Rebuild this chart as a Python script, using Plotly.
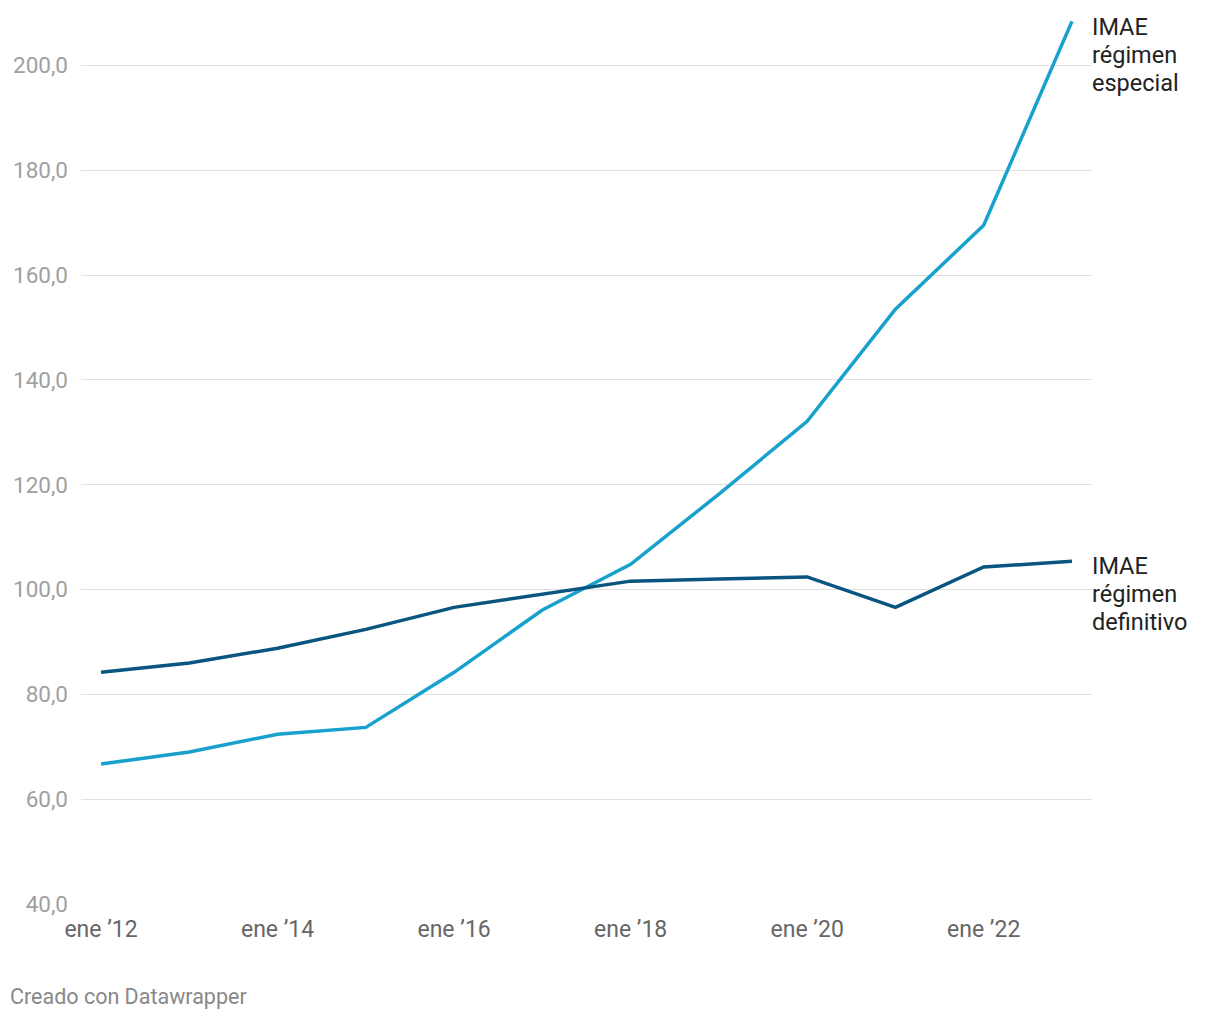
import plotly.graph_objects as go

years = [2012, 2013, 2014, 2015, 2016, 2017, 2018, 2019, 2020, 2021, 2022, 2023]
especial = [66.7, 69.0, 72.4, 73.7, 84.2, 96.1, 104.8, 118.2, 132.1, 153.5, 169.5, 208.4]
definitivo = [84.2, 86.0, 88.8, 92.4, 96.6, 99.1, 101.6, 102.0, 102.4, 96.6, 104.3, 105.4]

x_tickvals = [2012, 2014, 2016, 2018, 2020, 2022]
x_ticktext = ["ene ’12", "ene ’14", "ene ’16", "ene ’18", "ene ’20", "ene ’22"]
y_tickvals = [40, 60, 80, 100, 120, 140, 160, 180, 200]

label_especial = ["IMAE", "régimen", "especial"]
label_definitivo = ["IMAE", "régimen", "definitivo"]

FONT = "Roboto, 'Noto Sans', sans-serif"
LIGHT = "#18a1cd"
DARK = "#09557f"

# page offset of 8px (body margin) is compensated in the margins
L, R, T, B = 73, 136, 4.5, 124
W, H = 1220, 1020
PW = W - L - R
PH = H - T - B

fig = go.Figure()
fig.add_trace(go.Scatter(x=years, y=especial, mode="lines",
                         line=dict(color=LIGHT, width=3.5), hoverinfo="skip",
                         name="IMAE régimen especial"))
fig.add_trace(go.Scatter(x=years, y=definitivo, mode="lines",
                         line=dict(color=DARK, width=3.5), hoverinfo="skip",
                         name="IMAE régimen definitivo"))

annotations = []
def add_label(lines, top_px, color="#222"):
    # top_px: page y of the first line centre
    for i, t in enumerate(lines):
        ypix = top_px + i * 28 - 8  # figure coords
        annotations.append(dict(
            text=t, xref="paper", yref="paper",
            x=1.0, y=1 - (ypix - T) / PH, xanchor="left", yanchor="middle",
            xshift=-2, align="left", showarrow=False,
            font=dict(size=23.5, color=color, family=FONT)))

add_label(label_especial, 27)
add_label(label_definitivo, 566)

annotations.append(dict(text="Creado con Datawrapper", xref="paper", yref="paper",
                        x=-(L - 0) / PW, y=1 - (997 - 8 - T) / PH,
                        xanchor="left", yanchor="middle", showarrow=False,
                        font=dict(size=21.5, color="#888", family=FONT)))

fig.update_layout(
    width=W, height=H,
    margin=dict(l=L, r=R, t=T, b=B),
    paper_bgcolor="white", plot_bgcolor="white",
    showlegend=False,
    separators=",.",
    font=dict(family=FONT, size=20, color="#333"),
    xaxis=dict(range=[2011.773, 2023.227], tickvals=x_tickvals, ticktext=x_ticktext,
               showgrid=False, zeroline=False, showline=False,
               ticks="outside", ticklen=4, tickcolor="rgba(0,0,0,0)",
               tickfont=dict(size=23, color="#666", family=FONT)),
    yaxis=dict(range=[40, 210], tickvals=y_tickvals, tickformat=".1f",
               showgrid=True, gridcolor="#e0e0e0", gridwidth=1.3, zeroline=False,
               showline=False, ticks="", ticklabelstandoff=12,
               tickfont=dict(size=22.5, color="#a0a0a0", family=FONT)),
    annotations=annotations,
)

fig.write_html("out.html")
